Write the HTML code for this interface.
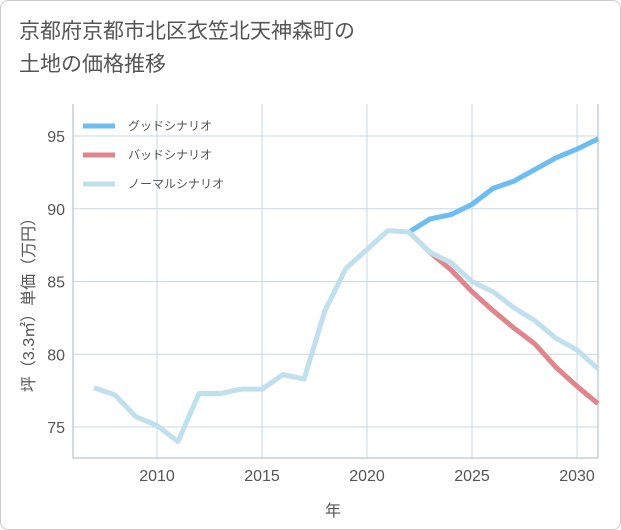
<!DOCTYPE html>
<html><head><meta charset="utf-8"><style>
body{margin:0;background:#fff;font-family:"Liberation Sans","Noto Sans CJK JP",sans-serif}
#wrap{position:relative;width:619px;height:528px;border:1px solid #ccc;border-radius:8px;background:#fff;overflow:hidden}
#title{position:absolute;left:18px;top:14px;font-size:21px;line-height:33px;color:#555}
</style></head><body>
<div id="wrap">
<div id="title">京都府京都市北区衣笠北天神森町の<br>土地の価格推移</div>
<svg id="chart" width="621" height="530" style="position:absolute;left:0;top:0"></svg>
</div>
<script>
const years=[2007,2008,2009,2010,2011,2012,2013,2014,2015,2016,2017,2018,2019,2020,2021,2022,2023,2024,2025,2026,2027,2028,2029,2030,2031];
const normal=[77.7,77.2,75.7,75.1,74.0,77.3,77.3,77.6,77.6,78.6,78.3,83.0,85.9,87.2,88.5,88.4,87.0,86.3,85.0,84.3,83.2,82.3,81.1,80.3,79.0];
const goodYears=[2022,2023,2024,2025,2026,2027,2028,2029,2030,2031];
const good=[88.4,89.3,89.6,90.3,91.4,91.9,92.7,93.5,94.1,94.8];
const bad=[88.4,87.0,85.8,84.3,83.0,81.8,80.7,79.1,77.8,76.6];
const xTicks=[2010,2015,2020,2025,2030];
const yTicks=[75,80,85,90,95];
const legendLabels=["グッドシナリオ","バッドシナリオ","ノーマルシナリオ"];
const colors=["#6bbdf2","#e0858c","#bfe0ec"];

const L=72,R=597,T=103,B=457,x0=2006,x1=2031,y0=72.87,y1=97.2;
const X=v=>L+(v-x0)/(x1-x0)*(R-L);
const Y=v=>B-(v-y0)/(y1-y0)*(B-T);
const svg=document.getElementById('chart');
const NS='http://www.w3.org/2000/svg';
function mk(t,a,p){const e=document.createElementNS(NS,t);for(const k in a)e.setAttribute(k,a[k]);(p||svg).appendChild(e);return e;}

mk('rect',{x:L,y:T,width:R-L,height:B-T,fill:'#fff'});
xTicks.forEach(v=>{const l=mk('line',{x1:X(v),x2:X(v),y1:T,y2:B,stroke:'#c8d8e6','stroke-width':1});

const t=mk('text',{x:X(v),y:480,'text-anchor':'middle','font-size':16,fill:'#555'});t.textContent=v;
});
yTicks.forEach(v=>{const l=mk('line',{x1:L,x2:R,y1:Y(v),y2:Y(v),stroke:'#c8d8e6','stroke-width':1});

const t=mk('text',{x:64,y:Y(v)+6,'text-anchor':'end','font-size':16,fill:'#555'});t.textContent=v;
});
const ax=mk('path',{d:`M${L} ${T}V${B}H${R}V${T}`,fill:'none',stroke:'#aab8c6','stroke-width':1});


function line(xs,vs,c,name){const p=mk('polyline',{points:xs.map((x,i)=>X(x)+','+Y(vs[i])).join(' '),fill:'none',stroke:c,'stroke-width':5,'stroke-linejoin':'round'});
}
line(goodYears,good,colors[0],'good-scenario-line');
line(goodYears,bad,colors[1],'bad-scenario-line');
line(years,normal,colors[2],'normal-scenario-line');

legendLabels.forEach((s,i)=>{const y=125+i*29;
const l=mk('line',{x1:82,x2:114,y1:y,y2:y,stroke:colors[i],'stroke-width':5});

const t=mk('text',{x:127,y:y+4,'font-size':12,fill:'#555'});t.textContent=s;
});

const yt=mk('text',{x:0,y:0,transform:'translate(33,300) rotate(-90)','text-anchor':'middle','font-size':16,fill:'#555'});
yt.textContent='坪（3.3㎡）単価（万円）';
const xt=mk('text',{x:332,y:515,'text-anchor':'middle','font-size':16,fill:'#555'});
xt.textContent='年';
</script>
</body></html>
